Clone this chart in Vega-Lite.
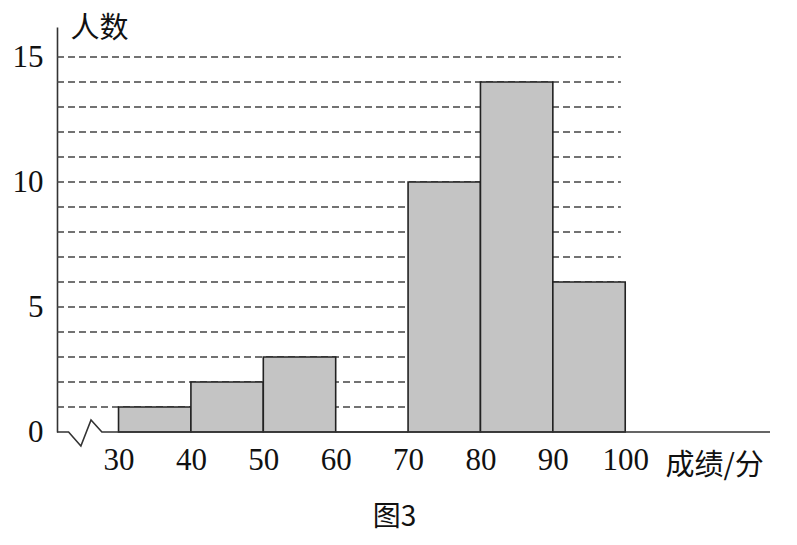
{
  "$schema": "https://vega.github.io/schema/vega-lite/v6.json",
  "description": "Histogram of scores (图3)",
  "autosize": "none",
  "width": 713,
  "height": 405,
  "padding": {"left": 57, "top": 27, "right": 27, "bottom": 113},
  "background": "white",
  "title": {
    "text": "图3",
    "orient": "bottom",
    "anchor": "middle",
    "dx": -19,
    "offset": 24,
    "font": "Noto Sans CJK SC",
    "fontSize": 28,
    "fontWeight": "normal",
    "color": "#111"
  },
  "config": {
    "view": {"stroke": null},
    "axis": {
      "labelFont": "'Liberation Serif', 'Times New Roman', 'DejaVu Serif', serif",
      "labelFontSize": 31,
      "labelColor": "#111",
      "titleFont": "Noto Sans CJK SC",
      "titleFontSize": 29,
      "titleFontWeight": "normal",
      "titleColor": "#111",
      "ticks": false,
      "grid": false
    }
  },
  "layer": [
    {
      "data": {"values": [
        {"level": 1}, {"level": 2}, {"level": 3}, {"level": 4}, {"level": 5},
        {"level": 6}, {"level": 7}, {"level": 8}, {"level": 9}, {"level": 10},
        {"level": 11}, {"level": 12}, {"level": 13}, {"level": 14}, {"level": 15}
      ]},
      "mark": {"type": "rule", "color": "#444", "strokeWidth": 1.6, "strokeDash": [7, 4]},
      "encoding": {
        "y": {"field": "level", "type": "quantitative"},
        "x": {"datum": 21.5, "type": "quantitative"},
        "x2": {"datum": 99.4}
      }
    },
    {
      "data": {"values": [
        {"start": 30, "end": 40, "count": 1},
        {"start": 40, "end": 50, "count": 2},
        {"start": 50, "end": 60, "count": 3},
        {"start": 60, "end": 70, "count": 0},
        {"start": 70, "end": 80, "count": 10},
        {"start": 80, "end": 90, "count": 14},
        {"start": 90, "end": 100, "count": 6}
      ]},
      "mark": {"type": "rect", "fill": "#c4c4c4", "stroke": "#222", "strokeWidth": 1.6},
      "encoding": {
        "x": {
          "field": "start",
          "type": "quantitative",
          "scale": {"domain": [21.5, 120], "nice": false, "zero": false},
          "axis": {
            "values": [30, 40, 50, 60, 70, 80, 90, 100],
            "domain": false,
            "labelPadding": 13,
            "title": "成绩/分",
            "titleAngle": 0,
            "titleAlign": "left",
            "titleBaseline": "middle",
            "titleX": 608,
            "titleY": 33
          }
        },
        "x2": {"field": "end"},
        "y": {
          "field": "count",
          "type": "quantitative",
          "scale": {"domain": [0, 16.2], "nice": false},
          "axis": {
            "values": [0, 5, 10, 15],
            "domain": true,
            "domainColor": "#333",
            "domainWidth": 1.6,
            "labelPadding": 14,
            "title": "人数",
            "titleAngle": 0,
            "titleAlign": "left",
            "titleBaseline": "middle",
            "titleX": 13,
            "titleY": 1
          }
        },
        "y2": {"datum": 0}
      }
    },
    {
      "data": {"values": [
        {"px": 21.5, "py": 0, "order": 1},
        {"px": 23.1, "py": 0, "order": 2},
        {"px": 24.8, "py": -0.56, "order": 3},
        {"px": 26.2, "py": 0.48, "order": 4},
        {"px": 27.7, "py": 0, "order": 5},
        {"px": 120, "py": 0, "order": 6}
      ]},
      "mark": {"type": "line", "color": "#333", "strokeWidth": 1.6, "clip": false},
      "encoding": {
        "x": {"field": "px", "type": "quantitative"},
        "y": {"field": "py", "type": "quantitative"},
        "order": {"field": "order"}
      }
    }
  ]
}
